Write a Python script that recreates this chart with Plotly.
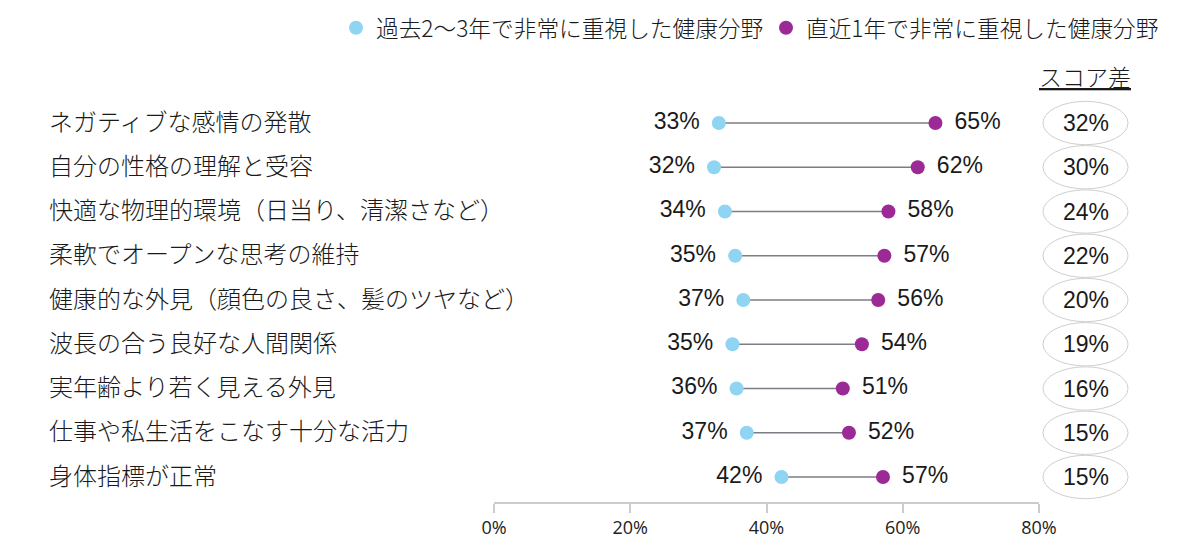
import plotly.graph_objects as go

categories = [
    "ネガティブな感情の発散",
    "自分の性格の理解と受容",
    "快適な物理的環境（日当り、清潔さなど）",
    "柔軟でオープンな思考の維持",
    "健康的な外見（顔色の良さ、髪のツヤなど）",
    "波長の合う良好な人間関係",
    "実年齢より若く見える外見",
    "仕事や私生活をこなす十分な活力",
    "身体指標が正常",
]
past_2_3_years = [33.0, 32.3, 33.9, 35.4, 36.6, 35.0, 35.6, 37.1, 42.2]
last_1_year = [64.8, 62.2, 57.9, 57.3, 56.4, 54.0, 51.2, 52.1, 57.1]
score_diff = [32, 30, 24, 22, 20, 19, 16, 15, 15]
x_ticks = [0, 20, 40, 60, 80]

name_past = "過去2～3年で非常に重視した健康分野"
name_last = "直近1年で非常に重視した健康分野"

C_PAST = "#8fd4f2"
C_LAST = "#9b2a97"
JP = "Noto Sans CJK JP"
NUM = "Liberation Sans, Arial"
TXT = "#1a1a1a"

W, H = 1200, 558
ML, MR, MT, MB = 494, 161, 80, 56
rows = list(range(len(categories)))

fig = go.Figure()

# connecting lines
lx, ly = [], []
for i, (a, b) in enumerate(zip(past_2_3_years, last_1_year)):
    lx += [a, b, None]
    ly += [i, i, None]
fig.add_trace(go.Scatter(x=lx, y=ly, mode="lines", line=dict(color="#7d7d85", width=1.5),
                         showlegend=False, hoverinfo="skip"))

# dots
fig.add_trace(go.Scatter(x=past_2_3_years, y=rows, mode="markers",
                         marker=dict(color=C_PAST, size=14), name=name_past,
                         showlegend=True, legend="legend", cliponaxis=False))
fig.add_trace(go.Scatter(x=last_1_year, y=rows, mode="markers",
                         marker=dict(color=C_LAST, size=14), name=name_last,
                         showlegend=True, legend="legend2", cliponaxis=False))

# value labels (invisible wider markers give the text gap)
fig.add_trace(go.Scatter(
    x=past_2_3_years, y=rows, mode="markers+text",
    marker=dict(color=C_PAST, size=29, opacity=0),
    text=[f"{round(v)}%" for v in past_2_3_years], textposition="middle left",
    textfont=dict(family=NUM, size=23, color=TXT),
    showlegend=False, cliponaxis=False, hoverinfo="skip"))
fig.add_trace(go.Scatter(
    x=last_1_year, y=rows, mode="markers+text",
    marker=dict(color=C_LAST, size=29, opacity=0),
    text=[f"{round(v)}%" for v in last_1_year], textposition="middle right",
    textfont=dict(family=NUM, size=23, color=TXT),
    showlegend=False, cliponaxis=False, hoverinfo="skip"))

plot_w = W - ML - MR
plot_h = H - MT - MB

def px_x(px):
    return (px - ML) / plot_w

def px_y(py):
    return (H - MB - py) / plot_h

annotations = []
shapes = []
for i, cat in enumerate(categories):
    annotations.append(dict(x=px_x(47), xref="paper", y=i, yref="y", text=cat,
                            showarrow=False, xanchor="left", yanchor="middle",
                            font=dict(family=JP, size=24, color=TXT, weight=300), yshift=3))
    annotations.append(dict(x=px_x(1086), xref="paper", y=i, yref="y",
                            text=f"{score_diff[i]}%", showarrow=False,
                            xanchor="center", yanchor="middle",
                            font=dict(family=NUM, size=23, color=TXT)))
    shapes.append(dict(type="circle", xref="paper", yref="y",
                       x0=px_x(1043), x1=px_x(1128), y0=i - 0.49, y1=i + 0.49,
                       line=dict(color="#cfcfcf", width=1), fillcolor="rgba(0,0,0,0)"))

annotations.append(dict(x=px_x(1085), xref="paper", y=px_y(76), yref="paper",
                        text="<u>スコア差</u>", showarrow=False, xanchor="center",
                        yanchor="middle", font=dict(family=JP, size=23, color=TXT, weight=300)))

legend_common = dict(orientation="h", xref="container", yref="container",
                     xanchor="left", yanchor="middle", y=1 - 28 / H, itemwidth=30,
                     font=dict(family=JP, size=22.7, color=TXT, weight=300),
                     bgcolor="rgba(0,0,0,0)")

fig.update_layout(
    width=W, height=H,
    margin=dict(l=ML, r=MR, t=MT, b=MB, pad=0, autoexpand=False),
    paper_bgcolor="white", plot_bgcolor="white",
    xaxis=dict(range=[0, 80], tickvals=x_ticks, ticktext=[f"{v}%" for v in x_ticks],
               showgrid=False, zeroline=False, showline=True, linecolor="#cccccc",
               linewidth=1.5, ticks="outside", ticklen=9, tickcolor="#cccccc",
               tickwidth=1.5,
               tickfont=dict(family="Open Sans", size=18, color="#222")),
    yaxis=dict(range=[8.565, -0.972], showgrid=False, zeroline=False, showline=False,
               showticklabels=False, ticks=""),
    legend=dict(legend_common, x=336 / W),
    legend2=dict(legend_common, x=766 / W),
    annotations=annotations, shapes=shapes,
    showlegend=True,
)

fig.write_html("out.html")
